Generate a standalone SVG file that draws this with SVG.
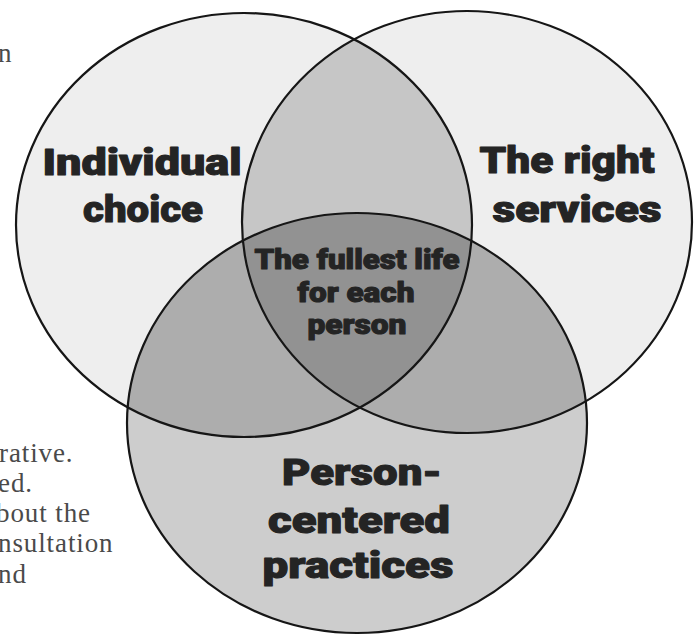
<svg xmlns="http://www.w3.org/2000/svg" width="694" height="635" viewBox="0 0 694 635">
  <defs>
    <clipPath id="clipLeft"><ellipse cx="244" cy="225" rx="228" ry="212"/></clipPath>
    <clipPath id="clipRight"><ellipse cx="467" cy="222" rx="225" ry="211"/></clipPath>
    <style>
      .outline { fill: none; stroke: #161616; stroke-width: 2.2; }
      .label { font-family: Roboto, "Liberation Sans", "DejaVu Sans", sans-serif; font-weight: 900; fill: #242424; text-anchor: middle; stroke: #242424; stroke-width: 1; stroke-linejoin: round; }
      .big { font-size: 36px; }
      .mid { font-size: 27px; }
      .page { font-family: "Liberation Serif", "DejaVu Serif", serif; font-size: 27px; letter-spacing: 0.9px; fill: #4a4a4a; }
    </style>
  </defs>

  <rect width="694" height="635" fill="#ffffff"/>

  <!-- page text from the surrounding book page -->
  <g id="page-text" class="page">
    <text x="-2" y="62">n</text>
    <text x="-1" y="462">rative.</text>
    <text x="-2" y="492">ed.</text>
    <text x="-4" y="522">bout the</text>
    <text x="-2" y="552">nsultation</text>
    <text x="-2" y="583">nd</text>
  </g>

  <!-- shaded regions of the Venn diagram -->
  <g id="regions">
    <ellipse cx="244" cy="225" rx="228" ry="212" fill="#eeeeee"/>
    <ellipse cx="467" cy="222" rx="225" ry="211" fill="#eeeeee"/>
    <ellipse cx="357" cy="423" rx="230" ry="210" fill="#cdcdcd"/>
    <ellipse cx="467" cy="222" rx="225" ry="211" fill="#c6c6c6" clip-path="url(#clipLeft)"/>
    <ellipse cx="357" cy="423" rx="230" ry="210" fill="#adadad" clip-path="url(#clipLeft)"/>
    <ellipse cx="357" cy="423" rx="230" ry="210" fill="#adadad" clip-path="url(#clipRight)"/>
    <g clip-path="url(#clipRight)">
      <ellipse cx="357" cy="423" rx="230" ry="210" fill="#929292" clip-path="url(#clipLeft)"/>
    </g>
  </g>

  <g id="node-individual-choice">
    <ellipse class="outline" cx="244" cy="225" rx="228" ry="212"/>
    <text class="label big" x="142" y="175" textLength="199" lengthAdjust="spacingAndGlyphs">Individual</text>
    <text class="label big" x="143" y="222" textLength="120" lengthAdjust="spacingAndGlyphs">choice</text>
  </g>

  <g id="node-right-services">
    <ellipse class="outline" cx="467" cy="222" rx="225" ry="211"/>
    <text class="label big" x="567" y="173" textLength="175" lengthAdjust="spacingAndGlyphs">The right</text>
    <text class="label big" x="577" y="222" textLength="169" lengthAdjust="spacingAndGlyphs">services</text>
  </g>

  <g id="node-person-centered">
    <ellipse class="outline" cx="357" cy="423" rx="230" ry="210"/>
    <text class="label big" x="362" y="485" textLength="160" lengthAdjust="spacingAndGlyphs">Person-</text>
    <text class="label big" x="359" y="533" textLength="182" lengthAdjust="spacingAndGlyphs">centered</text>
    <text class="label big" x="358" y="578" textLength="191" lengthAdjust="spacingAndGlyphs">practices</text>
  </g>

  <g id="node-fullest-life">
    <text class="label mid" x="357" y="269" textLength="205" lengthAdjust="spacingAndGlyphs">The fullest life</text>
    <text class="label mid" x="356" y="302" textLength="117" lengthAdjust="spacingAndGlyphs">for each</text>
    <text class="label mid" x="357" y="334" textLength="99" lengthAdjust="spacingAndGlyphs">person</text>
  </g>

  <g id="connectors"></g>
</svg>
